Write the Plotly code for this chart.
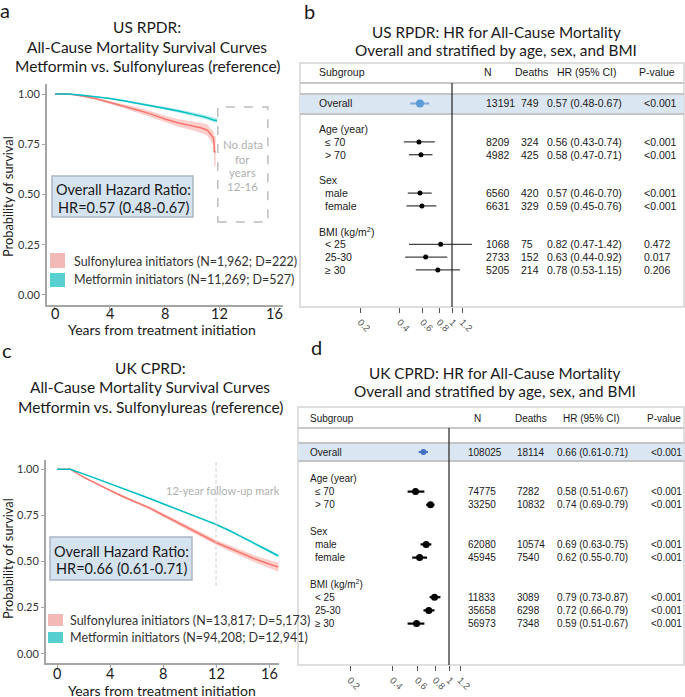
import math
import plotly.graph_objects as go

W, H = 685, 697

# ---------------- DATA ----------------
# Panel a: US RPDR Kaplan-Meier
a_met_t  = [0, 1, 2, 3, 4, 5, 6, 7, 8, 9, 10, 11, 11.6, 11.8]
a_met_s  = [1.0, 1.0, 0.994, 0.987, 0.978, 0.967, 0.954, 0.942, 0.930, 0.916, 0.900, 0.884, 0.869, 0.868]
a_met_lo = [1.0, 1.0, 0.992, 0.984, 0.974, 0.962, 0.949, 0.936, 0.923, 0.908, 0.891, 0.874, 0.858, 0.857]
a_met_hi = [1.0, 1.0, 0.996, 0.990, 0.982, 0.972, 0.959, 0.948, 0.937, 0.924, 0.909, 0.894, 0.880, 0.879]

a_sul_t  = [0, 1, 2, 3, 4, 5, 6, 7, 8, 9, 10, 10.6, 11.1, 11.3, 11.55, 11.6, 11.7]
a_sul_s  = [1.0, 1.0, 0.990, 0.977, 0.958, 0.940, 0.921, 0.900, 0.876, 0.856, 0.842, 0.832, 0.820, 0.800, 0.780, 0.713, 0.713]
a_sul_lo = [1.0, 1.0, 0.986, 0.971, 0.950, 0.930, 0.909, 0.886, 0.860, 0.837, 0.820, 0.807, 0.792, 0.770, 0.745, 0.640, 0.640]
a_sul_hi = [1.0, 1.0, 0.994, 0.983, 0.966, 0.950, 0.933, 0.914, 0.892, 0.875, 0.864, 0.857, 0.848, 0.830, 0.815, 0.790, 0.790]

# Panel c: UK CPRD Kaplan-Meier
c_t      = [0, 1, 2, 3, 4, 5, 6, 7, 8, 9, 10, 11, 12, 13, 14, 15, 16, 16.7]
c_met_s  = [1.0, 1.0, 0.975, 0.949, 0.922, 0.895, 0.868, 0.841, 0.813, 0.785, 0.757, 0.729, 0.701, 0.668, 0.632, 0.592, 0.557, 0.530]
c_met_lo = [1.0, 1.0, 0.973, 0.947, 0.919, 0.892, 0.865, 0.838, 0.810, 0.781, 0.753, 0.725, 0.696, 0.663, 0.626, 0.585, 0.549, 0.521]
c_met_hi = [1.0, 1.0, 0.977, 0.951, 0.925, 0.898, 0.871, 0.844, 0.816, 0.789, 0.761, 0.733, 0.706, 0.673, 0.638, 0.599, 0.565, 0.539]
c_sul_s  = [1.0, 1.0, 0.957, 0.920, 0.885, 0.851, 0.822, 0.789, 0.752, 0.716, 0.679, 0.641, 0.603, 0.572, 0.542, 0.512, 0.486, 0.470]
c_sul_lo = [1.0, 1.0, 0.953, 0.915, 0.879, 0.844, 0.814, 0.780, 0.742, 0.705, 0.667, 0.628, 0.589, 0.556, 0.525, 0.493, 0.464, 0.445]
c_sul_hi = [1.0, 1.0, 0.961, 0.925, 0.891, 0.858, 0.830, 0.798, 0.762, 0.727, 0.691, 0.654, 0.617, 0.588, 0.559, 0.531, 0.508, 0.495]

km_xticks = [0, 4, 8, 12, 16]
km_yticks = [0, 0.25, 0.5, 0.75, 1.0]
km_yticktext = ["0.00", "0.25", "0.50", "0.75", "1.00"]

a_legend = ["Sulfonylurea initiators (N=1,962; D=222)", "Metformin initiators (N=11,269; D=527)"]
c_legend = ["Sulfonylurea initiators (N=13,817; D=5,173)", "Metformin initiators (N=94,208; D=12,941)"]
a_hr_text = ["Overall Hazard Ratio:", "HR=0.57 (0.48-0.67)"]
c_hr_text = ["Overall Hazard Ratio:", "HR=0.66 (0.61-0.71)"]

# Forest tables (first entry = Overall)
group_labels = ["Age (year)", "Sex", "BMI (kg/m<sup>2</sup>)"]
sub_labels = ["≤ 70", "> 70", "male", "female", "< 25", "25-30", "≥ 30"]
sub_group = [0, 0, 1, 1, 2, 2, 2]

b_n      = [13191, 8209, 4982, 6560, 6631, 1068, 2733, 5205]
b_deaths = [749, 324, 425, 420, 329, 75, 152, 214]
b_hr     = [0.57, 0.56, 0.58, 0.57, 0.59, 0.82, 0.63, 0.78]
b_lo     = [0.48, 0.43, 0.47, 0.46, 0.45, 0.47, 0.44, 0.53]
b_hi     = [0.67, 0.74, 0.71, 0.70, 0.76, 1.42, 0.92, 1.15]
b_p      = ["<0.001", "<0.001", "<0.001", "<0.001", "<0.001", "0.472", "0.017", "0.206"]

d_n      = [108025, 74775, 33250, 62080, 45945, 11833, 35658, 56973]
d_deaths = [18114, 7282, 10832, 10574, 7540, 3089, 6298, 7348]
d_hr     = [0.66, 0.58, 0.74, 0.69, 0.62, 0.79, 0.72, 0.59]
d_lo     = [0.61, 0.51, 0.69, 0.63, 0.55, 0.73, 0.66, 0.51]
d_hi     = [0.71, 0.67, 0.79, 0.75, 0.70, 0.87, 0.79, 0.67]
d_p      = ["<0.001"] * 8

hr_ticks = [0.2, 0.4, 0.6, 0.8, 1, 1.2]
hr_ticktext = ["0.2", "0.4", "0.6", "0.8", "1", "1.2"]

# ---------------- helpers ----------------
def px(x):
    return x / W

def py(y):
    return 1 - y / H

def esc(s):
    return s.replace("<", "&lt;").replace(">", "&gt;")

TITLE_FONT = "Lato"
TAB_FONT = "Liberation Sans"
RED = "#F8766D"
TEAL = "#00BFC4"
RED_FILL = "rgba(248,118,109,0.35)"
TEAL_FILL = "rgba(0,191,196,0.30)"

fig = go.Figure()
annotations = []
shapes = []


def ann(x, y, text, size, color="#1a1a1a", family=TITLE_FONT, xanchor="center", xref="paper", yref="paper", angle=0):
    annotations.append(dict(x=x, y=y, xref=xref, yref=yref, text=text, showarrow=False,
                            xanchor=xanchor, yanchor="middle", textangle=angle,
                            font=dict(family=family, size=size, color=color)))


def km_band(t, s, lo, hi, color, fill, xa, ya):
    fig.add_trace(go.Scatter(x=t + t[::-1], y=hi + lo[::-1], fill="toself", fillcolor=fill,
                             line=dict(width=0), mode="lines", hoverinfo="skip",
                             showlegend=False, xaxis=xa, yaxis=ya))
    fig.add_trace(go.Scatter(x=t, y=s, mode="lines", line=dict(color=color, width=1.5),
                             showlegend=False, xaxis=xa, yaxis=ya))


# ---------------- KM panels ----------------
km_band(a_sul_t, a_sul_s, a_sul_lo, a_sul_hi, RED, RED_FILL, "x", "y")
km_band(a_met_t, a_met_s, a_met_lo, a_met_hi, TEAL, TEAL_FILL, "x", "y")
km_band(c_t, c_sul_s, c_sul_lo, c_sul_hi, RED, RED_FILL, "x2", "y2")
km_band(c_t, c_met_s, c_met_lo, c_met_hi, TEAL, TEAL_FILL, "x2", "y2")

AXC = "#a6a6a6"
def km_xaxis(dom, rng, anchor):
    return dict(domain=[px(dom[0]), px(dom[1])], range=rng, anchor=anchor,
                showline=True, linecolor=AXC, linewidth=2, ticks="outside", ticklen=3,
                tickcolor=AXC, tickvals=km_xticks, showgrid=False, zeroline=False,
                showticklabels=False)

def km_yaxis(dom, anchor):
    return dict(domain=[py(dom[1]), py(dom[0])], range=[-0.05, 1.05], anchor=anchor,
                showline=True, linecolor=AXC, linewidth=2, ticks="outside", ticklen=3,
                tickcolor=AXC, tickvals=km_yticks, ticktext=km_yticktext, showgrid=False,
                zeroline=False, tickfont=dict(family=TITLE_FONT, size=11, color="#333333"))

def km_xlabels(xref, ypix):
    for v in km_xticks:
        ann(v, py(ypix), str(v), 14.5, xref=xref)

LEG_FS = 12.5
HR_FS = 14.5
AX_TITLE_FS = 14
Y_TITLE_FS = 12.8
# panel a
ann(px(5), py(10), "a", 20)
for txt, yy in zip(["US RPDR:", "All-Cause Mortality Survival Curves", "Metformin vs. Sulfonylureas (reference)"], [27, 47, 66]):
    ann(px(147), py(yy), txt, 15.5)
shapes.append(dict(type="rect", xref="paper", yref="paper", x0=px(52), x1=px(193), y0=py(217), y1=py(176),
                   fillcolor="#d5e3f1", line=dict(color="#aab6c4", width=1.5)))
ann(px(123), py(189), a_hr_text[0], HR_FS)
ann(px(123), py(207), a_hr_text[1], HR_FS)
shapes.append(dict(type="rect", xref="paper", yref="paper", x0=px(50), x1=px(65), y0=py(268), y1=py(253),
                   fillcolor="#f3b9b6", line=dict(width=0)))
shapes.append(dict(type="rect", xref="paper", yref="paper", x0=px(50), x1=px(65), y0=py(287), y1=py(273),
                   fillcolor="#55cfd0", line=dict(width=0)))
ann(px(72), py(261), a_legend[0], LEG_FS, "#333333", xanchor="left")
ann(px(72), py(279), a_legend[1], LEG_FS, "#333333", xanchor="left")
shapes.append(dict(type="rect", xref="x", yref="y", x0=11.85, x1=15.5, y0=0.363, y1=0.935,
                   line=dict(color="#bdbdbd", width=1.5, dash="dash")))
for txt, yy in zip(["No data", "for", "years", "12-16"], [145, 159, 172, 186]):
    ann(px(243), py(yy), txt, 11.5, "#b0b0b0")
km_xlabels("x", 314)
ann(px(162), py(330), "Years from treatment initiation", AX_TITLE_FS)
ann(px(8), py(197), "Probability of survival", Y_TITLE_FS, angle=-90)

# panel c
ann(px(7), py(350), "c", 20)
for txt, yy in zip(["UK CPRD:", "All-Cause Mortality Survival Curves", "Metformin vs. Sulfonylureas (reference)"], [368, 387, 407]):
    ann(px(150), py(yy), txt, 15.5)
shapes.append(dict(type="line", xref="x2", yref="y2", x0=12, x1=12, y0=0.37, y1=1.05,
                   line=dict(color="#c8c8c8", width=1, dash="dot")))
ann(px(223), py(490), "12-year follow-up mark", 11, "#b0b0b0")
shapes.append(dict(type="rect", xref="paper", yref="paper", x0=px(50), x1=px(192), y0=py(580), y1=py(537),
                   fillcolor="#d5e3f1", line=dict(color="#aab6c4", width=1.5)))
ann(px(121), py(551), c_hr_text[0], HR_FS)
ann(px(121), py(568), c_hr_text[1], HR_FS)
shapes.append(dict(type="rect", xref="paper", yref="paper", x0=px(48), x1=px(63), y0=py(626), y1=py(614),
                   fillcolor="#f3b9b6", line=dict(width=0)))
shapes.append(dict(type="rect", xref="paper", yref="paper", x0=px(48), x1=px(63), y0=py(643), y1=py(632),
                   fillcolor="#55cfd0", line=dict(width=0)))
ann(px(68), py(620), c_legend[0], LEG_FS, "#333333", xanchor="left")
ann(px(68), py(637), c_legend[1], LEG_FS, "#333333", xanchor="left")
km_xlabels("x2", 673)
ann(px(162), py(690), "Years from treatment initiation", AX_TITLE_FS)
ann(px(8), py(559), "Probability of survival", Y_TITLE_FS, angle=-90)

layout_axes = {}
layout_axes["xaxis"] = km_xaxis((47, 283), [-0.58, 16.6], "y")
layout_axes["yaxis"] = km_yaxis((84, 305), "x")
layout_axes["xaxis2"] = km_xaxis((46, 279), [-0.83, 16.75], "y2")
layout_axes["yaxis2"] = km_yaxis((460, 663), "x2")

# ---------------- Forest panels ----------------
overall_line = 0
header_lines = []
item_lines = []
ln = 2
for g in range(len(group_labels)):
    header_lines.append(ln)
    ln += 1
    for j, sg in enumerate(sub_group):
        if sg == g:
            item_lines.append(ln)
            ln += 1
    ln += 1


def forest(xa, ya, xaname, yaname, n, deaths, hr, lo, hi, pv, c):
    k_of = lambda p: (p - c["row0"]) / c["step"]
    l, r, t, b = c["box"]
    dec = c["ppl"] * math.log(10)
    layout_axes[xaname] = dict(domain=[px(l), px(r)], type="log",
                               range=[(l - c["ref"]) / dec, (r - c["ref"]) / dec],
                               anchor=ya, showline=False, showgrid=False, zeroline=False,
                               ticks="outside", ticklen=5, tickcolor="#555555", tickwidth=1,
                               tickvals=hr_ticks, ticktext=hr_ticktext, tickangle=45,
                               tickfont=dict(family=TAB_FONT, size=9.5, color="#555555"))
    layout_axes[yaname] = dict(domain=[py(b), py(t)], range=[k_of(b), k_of(t)], anchor=xa,
                               visible=False, showgrid=False, zeroline=False)
    shapes.append(dict(type="rect", xref="paper", yref="paper", x0=px(l), x1=px(r), y0=py(b), y1=py(t),
                       line=dict(color="#d4d4d4", width=1.5), layer="below"))
    shapes.append(dict(type="rect", xref="paper", yref="paper", x0=px(l), x1=px(r),
                       y0=py(c["band"][1]), y1=py(c["band"][0]), fillcolor="#dae6f2",
                       line=dict(width=0), layer="below"))
    for yy in c["band"]:
        shapes.append(dict(type="line", xref="paper", yref="paper", x0=px(l), x1=px(r), y0=py(yy), y1=py(yy),
                           line=dict(color="#c4c4c4", width=2), layer="below"))
    shapes.append(dict(type="line", xref="paper", yref="paper", x0=px(l), x1=px(r),
                       y0=py(c["hline"]), y1=py(c["hline"]), line=dict(color="#c8c8c8", width=2), layer="below"))
    shapes.append(dict(type="line", xref=xa, yref=ya, x0=1, x1=1, y0=k_of(c["hline"]), y1=k_of(c["vbot"]),
                       line=dict(color="#222222", width=1.2)))
    xs, ys = [], []
    for i, k in enumerate(item_lines):
        xs += [lo[i + 1], hi[i + 1], None]
        ys += [k, k, None]
    fig.add_trace(go.Scatter(x=xs, y=ys, mode="lines", line=dict(color=c["ci_color"], width=c["ci_w"]),
                             showlegend=False, hoverinfo="skip", xaxis=xa, yaxis=ya))
    fig.add_trace(go.Scatter(x=hr[1:], y=item_lines, mode="markers",
                             marker=dict(color="black", size=c["dot"]),
                             showlegend=False, xaxis=xa, yaxis=ya))
    fig.add_trace(go.Scatter(x=[lo[0], hi[0]], y=[overall_line, overall_line], mode="lines",
                             line=dict(color=c["ov_line"], width=c["ov_w"]),
                             showlegend=False, hoverinfo="skip", xaxis=xa, yaxis=ya))
    fig.add_trace(go.Scatter(x=[hr[0]], y=[overall_line], mode="markers",
                             marker=dict(color=c["ov_color"], size=c["ov_dot"]),
                             showlegend=False, xaxis=xa, yaxis=ya))
    hy = k_of(c["head"])
    cx = c["cols"]
    ts = c["fs"]
    ann(px(cx["sub"]), hy, "Subgroup", ts, family=TAB_FONT, xanchor="left", yref=ya)
    ann(px(cx["n_head"]), hy, "N", ts, family=TAB_FONT, yref=ya)
    ann(px(cx["d_head"]), hy, "Deaths", ts, family=TAB_FONT, xanchor="left", yref=ya)
    ann(px(cx["hr_head"]), hy, "HR (95% CI)", ts, family=TAB_FONT, xanchor="left", yref=ya)
    ann(px(cx["p_head"]), hy, "P-value", ts, family=TAB_FONT, xanchor="left", yref=ya)
    rows = [(overall_line, "Overall", cx["sub"], 0)] + [
        (k, esc(sub_labels[i]), cx["item"], i + 1) for i, k in enumerate(item_lines)]
    for k, lab, lx, i in rows:
        ann(px(lx), k, lab, ts, family=TAB_FONT, xanchor="left", yref=ya)
        ann(px(cx["n"]), k, str(n[i]), ts, family=TAB_FONT, xanchor="left", yref=ya)
        ann(px(cx["d"]), k, str(deaths[i]), ts, family=TAB_FONT, xanchor="left", yref=ya)
        ann(px(cx["hr"]), k, f"{hr[i]:.2f} ({lo[i]:.2f}-{hi[i]:.2f})", ts, family=TAB_FONT,
            xanchor="left", yref=ya)
        ann(px(cx["p"]), k, esc(pv[i]), ts, family=TAB_FONT, xanchor="left", yref=ya)
    for g, k in enumerate(header_lines):
        ann(px(cx["sub"]), k, group_labels[g], ts, family=TAB_FONT, xanchor="left", yref=ya)


cfg_b = dict(ref=452, ppl=57.0, row0=103.5, step=12.8, box=(300, 684, 63, 307), band=(94, 114),
             hline=83, vbot=310, head=72, ci_color="#444444", ci_w=1.3, dot=5, fs=10.5,
             ov_line="#7fa7d4", ov_w=2, ov_color="#5b9bd5", ov_dot=8,
             cols=dict(sub=317, item=323, n_head=488, n=484, d_head=513, d=519,
                       hr_head=555, hr=545, p_head=637, p=642))
cfg_d = dict(ref=449, ppl=61.5, row0=452, step=13.2, box=(298, 684, 407, 665), band=(443, 461),
             hline=428, vbot=677, head=418, ci_color="#000000", ci_w=2.2, dot=7, fs=10,
             ov_line="#4472c4", ov_w=2, ov_color="#4472c4", ov_dot=6,
             cols=dict(sub=308, item=313, n_head=477, n=466, d_head=513, d=515,
                       hr_head=561, hr=555, p_head=645, p=649))

forest("x3", "y3", "xaxis3", "yaxis3", b_n, b_deaths, b_hr, b_lo, b_hi, b_p, cfg_b)
forest("x4", "y4", "xaxis4", "yaxis4", d_n, d_deaths, d_hr, d_lo, d_hi, d_p, cfg_d)

ann(px(309), py(11), "b", 20)
ann(px(496), py(32), "US RPDR: HR for All-Cause Mortality", 15.3)
ann(px(496), py(50), "Overall and stratified by age, sex, and BMI", 15.3)
ann(px(316), py(347), "d", 20)
ann(px(495), py(373), "UK CPRD: HR for All-Cause Mortality", 15.3)
ann(px(495), py(391), "Overall and stratified by age, sex, and BMI", 15.3)

fig.update_layout(width=W, height=H, margin=dict(l=0, r=0, t=0, b=0),
                  paper_bgcolor="white", plot_bgcolor="rgba(0,0,0,0)",
                  showlegend=False, annotations=annotations, shapes=shapes, **layout_axes)

fig.write_html("out.html", config={"displayModeBar": False},
               post_script="document.body.style.margin='0px';")
